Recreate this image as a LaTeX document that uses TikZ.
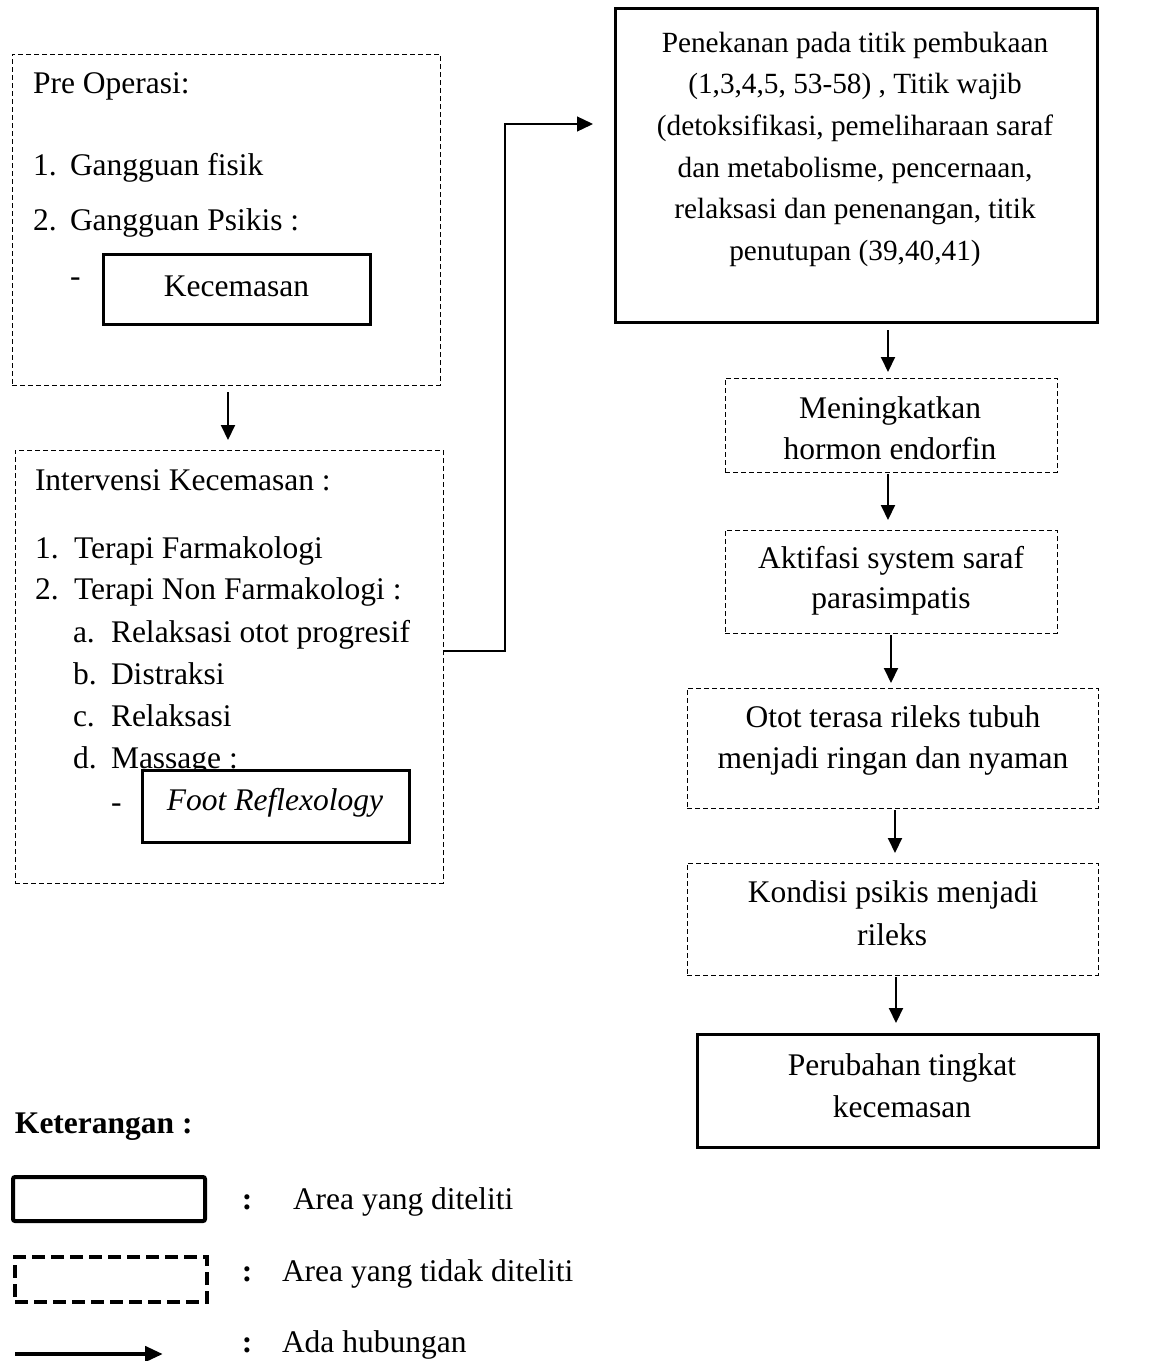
\documentclass[tikz,border=0pt]{standalone}
\usepackage{fontspec}
\setmainfont{Liberation Serif}
\usetikzlibrary{arrows.meta}
\begin{document}
\begin{tikzpicture}[x=1pt,y=-1pt,
  every node/.style={inner sep=0pt, outer sep=0pt},
  txt/.style={font=\fontsize{31.5}{42}\selectfont, anchor=base west},
  ctxt/.style={font=\fontsize{31.5}{42}\selectfont, anchor=base},
  stxt/.style={font=\fontsize{29.3}{41.6}\selectfont, anchor=base},
  dbox/.style={draw, line width=1pt, dash pattern=on 5pt off 3pt, rectangle},
  sbox/.style={draw, line width=3pt, rectangle, fill=white},
  arr/.style={line width=2pt, -{Triangle[length=15pt,width=14pt]}},
  conn/.style={line width=1.3pt, -{Triangle[length=16pt,width=15pt]}},
]
\useasboundingbox (0,0) rectangle (1152,1361);

% ---------- left column ----------
\node[dbox, minimum width=428pt, minimum height=331pt] (pre) at (226,219.5) {};
\node[txt] (pret) at (33,93) {Pre Operasi:};
\node[txt] (pren1) at (33,175) {1.};
\node[txt] (pre1) at (70,175) {Gangguan fisik};
\node[txt] (pren2) at (33,230) {2.};
\node[txt] (pre2) at (70,230) {Gangguan Psikis :};
\node[txt] (pred) at (70,286) {-};
\node[sbox, minimum width=267pt, minimum height=70pt] (kec) at (236.5,289) {};
\node[ctxt] (kect) at (236.5,296) {Kecemasan};

\node[dbox, minimum width=428pt, minimum height=433pt] (iv) at (229,666.5) {};
\node[txt] (ivt) at (35,490) {Intervensi Kecemasan :};
\node[txt] (ivn1) at (35,558) {1.};
\node[txt] (iv1) at (74,558) {Terapi Farmakologi};
\node[txt] (ivn2) at (35,599) {2.};
\node[txt] (iv2) at (74,599) {Terapi Non Farmakologi :};
\node[txt] (ivna) at (73,642) {a.};
\node[txt] (iva) at (111,642) {Relaksasi otot progresif};
\node[txt] (ivnb) at (73,684) {b.};
\node[txt] (ivb) at (111,684) {Distraksi};
\node[txt] (ivnc) at (73,726) {c.};
\node[txt] (ivc) at (111,726) {Relaksasi};
\node[txt] (ivnd) at (73,768) {d.};
\node[txt] (ivd) at (111,768) {Massage :};
\node[txt] (ivdash) at (111,812) {-};
\node[sbox, minimum width=267pt, minimum height=72pt] (foot) at (275.5,806) {};
\node[ctxt, font=\fontsize{31.5}{42}\selectfont\itshape] (foott) at (275,810) {Foot Reflexology};

% ---------- right column ----------
\node[sbox, minimum width=482pt, minimum height=314pt] (big) at (856,165) {};
\node[stxt] (bt1) at (855,52) {Penekanan pada titik pembukaan};
\node[stxt] (bt2) at (855,93) {(1,3,4,5, 53-58) , Titik wajib};
\node[stxt] (bt3) at (855,135) {(detoksifikasi, pemeliharaan saraf};
\node[stxt] (bt4) at (855,177) {dan metabolisme, pencernaan,};
\node[stxt] (bt5) at (855,218) {relaksasi dan penenangan, titik};
\node[stxt] (bt6) at (855,260) {penutupan (39,40,41)};

\node[dbox, minimum width=332pt, minimum height=94pt] (m) at (891,425) {};
\node[ctxt] (mt1) at (890,418) {Meningkatkan};
\node[ctxt] (mt2) at (890,459) {hormon endorfin};

\node[dbox, minimum width=332pt, minimum height=103pt] (a) at (891,581.5) {};
\node[ctxt] (at1) at (891,568) {Aktifasi system saraf};
\node[ctxt] (at2) at (891,608) {parasimpatis};

\node[dbox, minimum width=411pt, minimum height=120pt] (o) at (892.5,748) {};
\node[ctxt] (ot1) at (893,727) {Otot terasa rileks tubuh};
\node[ctxt] (ot2) at (893,768) {menjadi ringan dan nyaman};

\node[dbox, minimum width=411pt, minimum height=112pt] (k) at (892.5,919) {};
\node[ctxt] (kt1) at (893,902) {Kondisi psikis menjadi};
\node[ctxt] (kt2) at (892,945) {rileks};

\node[sbox, minimum width=401pt, minimum height=113pt] (p) at (897.5,1090.5) {};
\node[ctxt] (pt1) at (902,1075) {Perubahan tingkat};
\node[ctxt] (pt2) at (902,1117) {kecemasan};

% ---------- connectors ----------
\coordinate (c0) at (228,0);
\draw[arr, shorten <=7pt, shorten >=10pt] (pre.south -| c0) -- (iv.north -| c0);

\coordinate (c1) at (888,0);
\coordinate (c2) at (888,0);
\coordinate (c3) at (891,0);
\coordinate (c4) at (895,0);
\coordinate (c5) at (896,0);
\draw[arr, shorten <=8pt, shorten >=6pt] (big.south -| c1) -- (m.north -| c1);
\draw[arr, shorten <=2pt, shorten >=10pt] (m.south -| c2) -- (a.north -| c2);
\draw[arr, shorten <=2pt, shorten >=5pt] (a.south -| c3) -- (o.north -| c3);
\draw[arr, shorten <=2pt, shorten >=10pt] (o.south -| c4) -- (k.north -| c4);
\draw[arr, shorten <=2pt, shorten >=11pt] (k.south -| c5) -- (p.north -| c5);

\coordinate (j1) at (505,651);
\coordinate (j2) at (505,124);
\draw[conn, shorten >=22pt] (iv.east |- j1) -- (j1) -- (j2) -- (big.west |- j2);

% ---------- legend ----------
\node[txt, font=\fontsize{31.5}{42}\selectfont\bfseries] (ket) at (15,1133) {Keterangan :};
\node[draw, line width=4pt, rounded corners=2pt, minimum width=192pt, minimum height=44pt] (ls) at (109,1199) {};
\node[draw, line width=4pt, dash pattern=on 13pt off 6pt, minimum width=192pt, minimum height=45pt] (ld) at (111,1279.5) {};
\coordinate (la1) at (15,1354);
\coordinate (la2) at (163,1354);
\draw[line width=4.5pt, -{Triangle[length=18pt,width=15pt]}] (la1) -- (la2);

\node[ctxt, font=\fontsize{31.5}{42}\selectfont\bfseries] (col1) at (247,1209) {:};
\node[ctxt, font=\fontsize{31.5}{42}\selectfont\bfseries] (col2) at (247,1281) {:};
\node[ctxt, font=\fontsize{31.5}{42}\selectfont\bfseries] (col3) at (247,1352) {:};
\node[txt] (l1) at (293,1209) {Area yang diteliti};
\node[txt] (l2) at (282,1281) {Area yang tidak diteliti};
\node[txt] (l3) at (282,1352) {Ada hubungan};
\end{tikzpicture}
\end{document}
